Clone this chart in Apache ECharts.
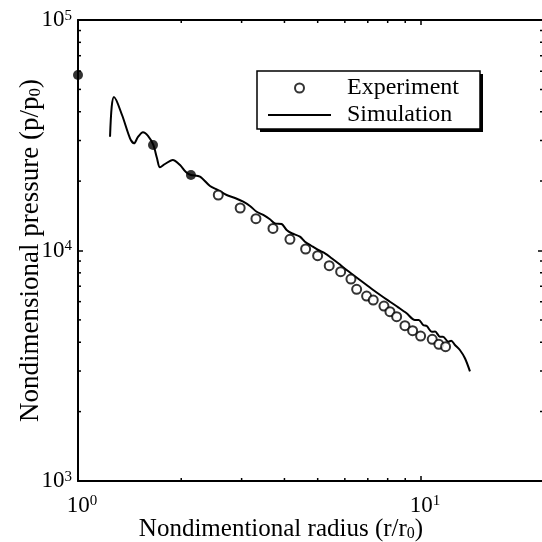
<!DOCTYPE html>
<html><head><meta charset="utf-8">
<script src="https://cdn.jsdelivr.net/npm/echarts@6/dist/echarts.min.js"></script>
<style>html,body{margin:0;padding:0;background:#fff}#c{width:542px;height:542px}</style>
</head><body><div id="c"></div>
<script>
// Simulation curve (r/r0, p/p0)
const simX = [1.240,1.254,1.273,1.344,1.418,1.457,1.496,1.547,1.600,1.658,1.699,1.734,1.793,1.889,1.984,2.064,2.135,2.268,2.426,2.559,2.713,2.870,3.033,3.173,3.319,3.469,3.628,3.752,3.926,4.059,4.198,4.438,4.590,4.801,5.019,5.250,5.492,5.741,6.074,6.348,6.640,6.944,7.260,7.682,8.122,8.587,9.085,9.605,9.85,10.15,10.40,10.75,11.00,11.36,11.60,12.02,12.25,12.57,12.99,13.44,13.90];
const simY = [31170,42060,46340,38710,30680,29180,31080,32570,31390,28690,25200,22960,23730,24700,23490,21900,21260,20900,19050,18300,17410,16900,16280,15600,14730,14260,13660,13120,13030,12270,11880,11480,10920,10460,10050,9723,9251,8800,8230,7830,7447,7085,6740,6346,5996,5668,5340,4994,5000,4751,4700,4443,4450,4227,4230,4020,4060,3890,3701,3407,2990];
// Experiment (open circles)
const expX = [2.565,2.971,3.303,3.703,4.150,4.611,4.998,5.403,5.834,6.251,6.495,6.944,7.261,7.802,8.122,8.496,8.982,9.458,9.98,10.79,11.28,11.80];
const expY = [17410,15290,13740,12460,11180,10150,9493,8590,8091,7521,6787,6346,6097,5743,5427,5163,4719,4487,4256,4119,3917,3824];
// Filled reference points
const refX = [1.0, 1.655, 2.135];
const refY = [57730, 28690, 21260];
// Axis ranges and tick values
const xMin = 1, xMax = 22.7, yMin = 1000, yMax = 100000;
const xMinorTicks = [2,3,4,5,6,7,8,9];
const yMinorTicks = [2000,3000,4000,5000,6000,7000,8000,9000,20000,30000,40000,50000,60000,70000,80000,90000];

const FONT = 'Liberation Serif';
function powLabel(v){
  const e = Math.log10(v);
  if (Math.abs(e - Math.round(e)) > 1e-6) return '';
  return '{b|10}{s|' + Math.round(e) + '}';
}
const labelRich = {
  b:{fontFamily:FONT,fontSize:23,color:'#000',lineHeight:23,verticalAlign:'top'},
  s:{fontFamily:FONT,fontSize:15,color:'#000',lineHeight:15,verticalAlign:'top'}
};
const axLine = {show:true,lineStyle:{color:'#000',width:2}};
const axTick = {show:true,inside:true,length:5,lineStyle:{color:'#000',width:1.5}};

function minorTicks(vals, dir){
  return {
    type:'custom', silent:true, clip:false, z:5, xAxisIndex:0, yAxisIndex:0,
    data: vals.map(v => dir==='x' ? [v, yMin] : [xMin, v]),
    encode:{x:0,y:1},
    renderItem:(params, api) => {
      const st = {stroke:'#000', lineWidth:1.5};
      if (dir==='x'){
        const a = api.coord([api.value(0), yMin]);
        const b = api.coord([api.value(0), yMax]);
        return {type:'group',children:[
          {type:'line',shape:{x1:a[0],y1:a[1],x2:a[0],y2:a[1]-3},style:st},
          {type:'line',shape:{x1:b[0],y1:b[1],x2:b[0],y2:b[1]+3},style:st}]};
      }
      const a = api.coord([xMin, api.value(1)]);
      const b = api.coord([xMax, api.value(1)]);
      return {type:'group',children:[
        {type:'line',shape:{x1:a[0],y1:a[1],x2:a[0]+3,y2:a[1]},style:st},
        {type:'line',shape:{x1:b[0],y1:b[1],x2:b[0]-3,y2:b[1]},style:st}]};
    }
  };
}

const chart = echarts.init(document.getElementById('c'), null, {renderer:'canvas'});
chart.setOption({
  animation:false,
  backgroundColor:'#fff',
  grid:{left:78, top:20, width:465, height:461, containLabel:false, outerBoundsMode:'none'},
  graphic:[
    {type:'rect', z:1, silent:true, shape:{x:260, y:74, width:223, height:58}, style:{fill:'#000'}},
    {type:'rect', z:2, silent:true, shape:{x:257, y:71, width:223, height:58}, style:{fill:'#fff', stroke:'#000', lineWidth:1.5}}
  ],
  legend:{
    orient:'vertical', left:268, top:76, padding:0,
    data:[{name:'Experiment'}, {name:'Simulation', icon:'path://M0,0h63v2h-63z'}],
    itemWidth:63, itemHeight:9, itemGap:3, symbolKeepAspect:true,
    textStyle:{fontFamily:FONT,fontSize:24,color:'#000',lineHeight:24,padding:[0,0,0,11]}
  },
  xAxis:[
    {type:'log', logBase:10, min:xMin, max:xMax, position:'bottom',
     name:'{n|Nondimentional radius (r/r}{sub|0}{n|)}', nameLocation:'middle', nameGap:35, nameMoveOverlap:false,
     nameTextStyle:{padding:[0,59,0,0], rich:{
       n:{fontFamily:FONT,fontSize:25,color:'#000',lineHeight:26,verticalAlign:'bottom'},
       sub:{fontFamily:FONT,fontSize:16,color:'#000',lineHeight:16,verticalAlign:'bottom'}}},
     axisLine:axLine, axisTick:axTick, splitLine:{show:false}, minorTick:{show:false},
     axisLabel:{formatter:powLabel, rich:labelRich, margin:13, padding:[0,0,0,8]}},
    {type:'log', logBase:10, min:xMin, max:xMax, position:'top',
     axisLine:axLine, axisTick:axTick, splitLine:{show:false}, axisLabel:{show:false}}
  ],
  yAxis:[
    {type:'log', logBase:10, min:yMin, max:yMax, position:'left',
     name:'{n|Nondimensional pressure (p/p}{sub|0}{n|)}', nameLocation:'middle', nameGap:34, nameRotate:90, nameMoveOverlap:false,
     nameTextStyle:{rich:{
       n:{fontFamily:FONT,fontSize:27,color:'#000',lineHeight:28,verticalAlign:'bottom'},
       sub:{fontFamily:FONT,fontSize:17,color:'#000',lineHeight:17,verticalAlign:'bottom'}}},
     axisLine:axLine, axisTick:axTick, splitLine:{show:false},
     axisLabel:{formatter:powLabel, rich:labelRich, margin:6}},
    {type:'log', logBase:10, min:yMin, max:yMax, position:'right',
     axisLine:axLine, axisTick:axTick, splitLine:{show:false}, axisLabel:{show:false}}
  ],
  series:[
    {name:'Simulation', type:'line', data:simX.map((x,i)=>[x,simY[i]]),
     symbol:'none', showSymbol:false, smooth:0.3, lineStyle:{color:'#000',width:2}, itemStyle:{color:'#000'}, z:3},
    {name:'Experiment', type:'scatter', data:expX.map((x,i)=>[x,expY[i]]),
     symbol:'circle', symbolSize:9, itemStyle:{color:'#fff',borderColor:'#000',borderWidth:2}, z:4},
    {name:'Reference', type:'scatter', data:refX.map((x,i)=>[x,refY[i]]), clip:false,
     symbol:'circle', symbolSize:10, itemStyle:{color:'#000'}, z:6},
    minorTicks(xMinorTicks,'x'),
    minorTicks(yMinorTicks,'y')
  ]
});
</script></body></html>
